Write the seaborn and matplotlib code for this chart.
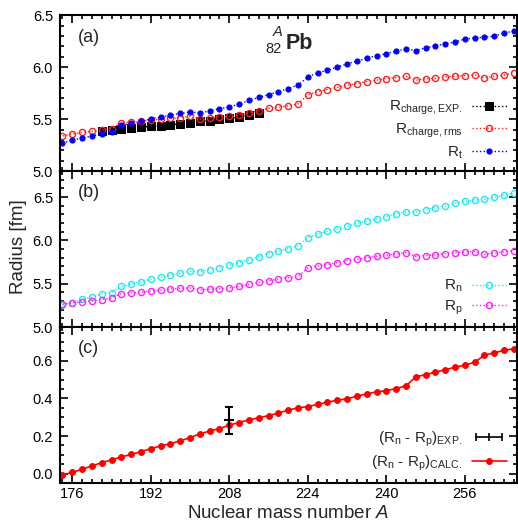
import matplotlib
matplotlib.use("Agg")
import matplotlib.pyplot as plt
from matplotlib.ticker import MultipleLocator
from matplotlib.legend_handler import HandlerLine2D
import seaborn as sns

# mass numbers of the Pb chain
mass_a = list(range(174, 268, 2))

r_t = [5.272, 5.295, 5.320, 5.336, 5.360, 5.380, 5.440, 5.460, 5.478, 5.503,
       5.520, 5.538, 5.555, 5.570, 5.560, 5.580, 5.600, 5.618, 5.644, 5.680,
       5.709, 5.737, 5.763, 5.795, 5.827, 5.907, 5.945, 5.971, 6.000, 6.032,
       6.058, 6.087, 6.112, 6.130, 6.154, 6.176, 6.160, 6.186, 6.208, 6.224,
       6.243, 6.270, 6.282, 6.288, 6.300, 6.327, 6.350]

r_charge_rms = [5.339, 5.356, 5.372, 5.382, 5.394, 5.410, 5.464, 5.471, 5.478, 5.490,
                5.500, 5.507, 5.516, 5.526, 5.497, 5.510, 5.520, 5.526, 5.541, 5.561,
                5.580, 5.605, 5.615, 5.628, 5.647, 5.734, 5.766, 5.785, 5.805, 5.827,
                5.843, 5.862, 5.875, 5.891, 5.900, 5.913, 5.875, 5.888, 5.894, 5.907,
                5.913, 5.920, 5.925, 5.897, 5.913, 5.925, 5.942]

mass_exp = list(range(182, 216, 2))
r_charge_exp = [5.385, 5.394, 5.410, 5.417, 5.423, 5.430, 5.436, 5.446, 5.455, 5.465,
                5.478, 5.487, 5.497, 5.507, 5.520, 5.538, 5.558]

r_n = [5.256, 5.279, 5.322, 5.345, 5.380, 5.399, 5.469, 5.497, 5.523, 5.550,
       5.573, 5.597, 5.624, 5.643, 5.640, 5.663, 5.686, 5.713, 5.744, 5.779,
       5.814, 5.849, 5.876, 5.907, 5.938, 6.031, 6.073, 6.108, 6.131, 6.163,
       6.198, 6.224, 6.252, 6.275, 6.306, 6.329, 6.329, 6.357, 6.380, 6.399,
       6.427, 6.450, 6.469, 6.473, 6.497, 6.523, 6.543]

r_p = [5.264, 5.279, 5.291, 5.302, 5.318, 5.334, 5.387, 5.395, 5.403, 5.415,
       5.427, 5.438, 5.446, 5.453, 5.430, 5.438, 5.442, 5.453, 5.469, 5.492,
       5.515, 5.535, 5.552, 5.570, 5.585, 5.682, 5.706, 5.721, 5.744, 5.767,
       5.783, 5.799, 5.818, 5.829, 5.845, 5.860, 5.814, 5.826, 5.833, 5.849,
       5.860, 5.868, 5.872, 5.841, 5.857, 5.868, 5.880]

skin_calc = [-0.007, 0.007, 0.023, 0.041, 0.058, 0.073, 0.089, 0.102, 0.117, 0.133,
             0.147, 0.159, 0.175, 0.191, 0.212, 0.226, 0.240, 0.258, 0.272, 0.286,
             0.297, 0.309, 0.322, 0.338, 0.350, 0.357, 0.368, 0.380, 0.391, 0.398,
             0.412, 0.424, 0.435, 0.441, 0.453, 0.467, 0.515, 0.527, 0.540, 0.553,
             0.566, 0.578, 0.592, 0.631, 0.643, 0.656, 0.665]

skin_exp_a = [208]
skin_exp = [0.283]
skin_exp_err = [0.071]

sns.set_theme(style="ticks")
plt.rcParams["font.family"] = ["Liberation Sans", "DejaVu Sans"]
plt.rcParams["mathtext.fontset"] = "custom"
plt.rcParams["mathtext.rm"] = "Liberation Sans"
plt.rcParams["mathtext.it"] = "Liberation Sans:italic"
plt.rcParams["mathtext.bf"] = "Liberation Sans:bold"

fig = plt.figure(figsize=(5.18, 5.25), dpi=100)
left, width, h = 0.1158, 0.882, 0.297
ax_a = fig.add_axes([left, 0.674, width, h])
ax_b = fig.add_axes([left, 0.377, width, h])
ax_c = fig.add_axes([left, 0.080, width, h])

# (a) charge radii and total radius
sns.lineplot(x=mass_exp, y=r_charge_exp, ax=ax_a, color="black", marker="s",
             markersize=5.8, linestyle=":", lw=1, mec="black", mfc="black",
             label=r"R$_{\mathrm{charge,EXP.}}$")
sns.lineplot(x=mass_a, y=r_charge_rms, ax=ax_a, color="#ff2020", marker="o",
             markersize=4.4, mfc="none", mec="#ff2020", mew=1, linestyle=":", lw=1,
             label=r"R$_{\mathrm{charge,rms}}$")
sns.lineplot(x=mass_a, y=r_t, ax=ax_a, color="#0000ff", marker="o",
             markersize=3.7, mec="#0000ff", mfc="#0000ff", linestyle=":", lw=1,
             label=r"R$_{\mathrm{t}}$")

# (b) neutron and proton radii
sns.lineplot(x=mass_a, y=r_n, ax=ax_b, color="#20e8f0", marker="o",
             markersize=4.4, mfc="none", mec="#20e8f0", mew=1, linestyle=":", lw=1,
             label=r"R$_{\mathrm{n}}$")
sns.lineplot(x=mass_a, y=r_p, ax=ax_b, color="#ff20ff", marker="o",
             markersize=4.4, mfc="none", mec="#ff20ff", mew=1, linestyle=":", lw=1,
             label=r"R$_{\mathrm{p}}$")

# (c) neutron skin
ax_c.errorbar(skin_exp_a, skin_exp, yerr=skin_exp_err, fmt="_", color="black",
              ms=7, mew=1.5, elinewidth=1.5, capsize=3, capthick=1.5, zorder=5)
sns.lineplot(x=mass_a, y=skin_calc, ax=ax_c, color="#ff0000", marker="o",
             markersize=4.2, mec="#ff0000", mfc="#ff0000", linestyle="-", lw=1.2,
             label=r"(R$_{\mathrm{n}}$ - R$_{\mathrm{p}}$)$_{\mathrm{CALC.}}$")

ax_a.set_ylim(5.0, 6.5)
ax_b.set_ylim(5.0, 6.8)
ax_c.set_ylim(-0.05, 0.78)
for ax in (ax_a, ax_b):
    ax.yaxis.set_major_locator(MultipleLocator(0.5))
    ax.yaxis.set_minor_locator(MultipleLocator(0.1))
ax_c.yaxis.set_major_locator(MultipleLocator(0.2))
ax_c.yaxis.set_minor_locator(MultipleLocator(0.05))

for ax, tag in zip([ax_a, ax_b, ax_c], ["(a)", "(b)", "(c)"]):
    ax.yaxis.set_major_formatter("{x:.1f}")
    ax.set_xlim(173.5, 266.6)
    ax.xaxis.set_major_locator(MultipleLocator(16))
    ax.xaxis.set_minor_locator(MultipleLocator(2))
    ax.tick_params(which="both", direction="in", top=True, right=True,
                   labelsize=10.5, width=1.2, colors="black")
    ax.tick_params(which="major", length=6)
    ax.tick_params(which="minor", length=3)
    ax.tick_params(axis="y", pad=5)
    ax.tick_params(axis="x", pad=3)
    for s in ax.spines.values():
        s.set_linewidth(1.5)
        s.set_color("black")
    ax.set_xlabel("")
    ax.set_ylabel("")
    ax.text(0.063, 0.86, tag, transform=ax.transAxes, fontsize=13,
            ha="center", va="center")
    if ax is not ax_c:
        ax.tick_params(labelbottom=False)

ax_c.set_xticks([176, 192, 208, 224, 240, 256])

# nucleus label
ax_a.text(0.477, 0.89, "A", transform=ax_a.transAxes, fontsize=10.5,
          style="italic", ha="center", va="center")
ax_a.text(0.468, 0.782, "82", transform=ax_a.transAxes, fontsize=10.5,
          ha="center", va="center")
ax_a.text(0.494, 0.82, "Pb", transform=ax_a.transAxes, fontsize=15.5,
          fontweight="bold", ha="left", va="center")

leg_kw = dict(loc="lower right", frameon=False, markerfirst=False, fontsize=11,
              handlelength=2.3, handletextpad=0.6, labelspacing=0.3,
              borderaxespad=0.25, numpoints=1)
ax_a.legend(**leg_kw)
ax_b.legend(**leg_kw)

h_c, l_c = ax_c.get_legend_handles_labels()
exp_handle = plt.Line2D([], [], color="black", lw=1.2, marker="|", ms=6, mew=1.2)
ax_c.legend([exp_handle, h_c[-1]],
            [r"(R$_{\mathrm{n}}$ - R$_{\mathrm{p}}$)$_{\mathrm{EXP.}}$", l_c[-1]],
            handler_map={exp_handle: HandlerLine2D(numpoints=3)}, **leg_kw)

fig.text(0.035, 0.53, "Radius [fm]", rotation=90, fontsize=13.5,
         ha="center", va="center")
fig.text(0.556, 0.022, "Nuclear mass number $\\mathit{A}$", fontsize=13.5,
         ha="center", va="center")

fig.savefig("out.png", dpi=100)
